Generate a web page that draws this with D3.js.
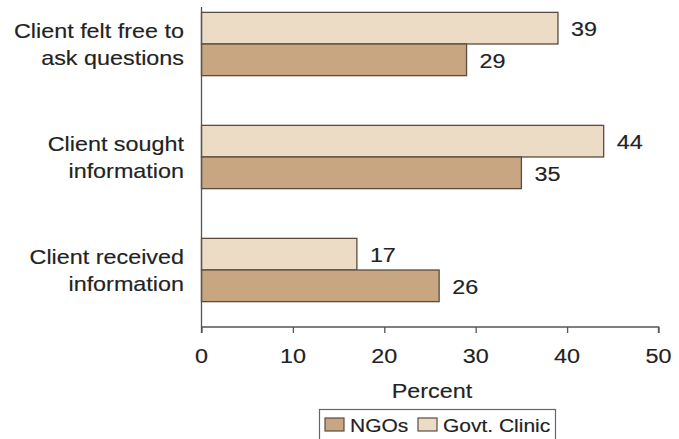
<!DOCTYPE html>
<html>
<head>
<meta charset="utf-8">
<script src="https://cdn.jsdelivr.net/npm/d3@7"></script>
<style>
  html, body { margin: 0; padding: 0; background: #fff; }
  svg { display: block; font-family: "Liberation Sans", Arial, sans-serif; }
</style>
</head>
<body>
<svg id="chart" width="679" height="439"></svg>
<script>
// Categories (two-line labels) and values per series
const categories = ["Client felt free to|ask questions", "Client sought|information", "Client received|information"];
const seriesNames = ["Govt. Clinic", "NGOs"];
const govtClinic = [39, 44, 17];
const ngos = [29, 35, 26];
const xTicks = [0, 10, 20, 30, 40, 50];

const colors = { "NGOs": "#c8a681", "Govt. Clinic": "#ecdcc6" };
const values = { "NGOs": ngos, "Govt. Clinic": govtClinic };
const textColor = "#222";
const FS = 20.5;      // base font size
const SX = 1.14;      // wide lettering

const svg = d3.select("#chart");
const x = d3.scaleLinear().domain([0, 50]).range([201.5, 658.5]);
const y = d3.scaleBand().domain(categories).range([-12.5, 326.5]).paddingInner(0.44).paddingOuter(0.22);
const ySub = d3.scaleBand().domain(seriesNames).range([0, y.bandwidth()]);

// helper: horizontally widened text anchored at (px, py)
function wideText(parent, px, py, str, anchor, size, sx) {
  return parent.append("g")
    .attr("transform", `translate(${px},${py}) scale(${sx},1)`)
    .append("text")
    .attr("text-anchor", anchor)
    .attr("font-size", size)
    .attr("fill", textColor)
    .attr("stroke", textColor)
    .attr("stroke-width", 0.15)
    .text(str);
}

// bars
categories.forEach((c, i) => {
  seriesNames.forEach(s => {
    const v = values[s][i];
    const by = y(c) + ySub(s);
    svg.append("rect")
      .attr("x", x(0))
      .attr("y", by)
      .attr("width", x(v) - x(0))
      .attr("height", ySub.bandwidth())
      .attr("fill", colors[s])
      .attr("stroke", "#5a4c40")
      .attr("stroke-width", 1.3);
    wideText(svg, x(v) + 13, by + ySub.bandwidth() / 2 + 8, v, "start", FS, SX);
  });
  // category label, two lines
  const lines = c.split("|");
  const cy = y(c) + y.bandwidth() / 2;
  wideText(svg, 184, cy - 6, lines[0], "end", FS, SX);
  wideText(svg, 184, cy + 21, lines[1], "end", FS, SX);
});

// vertical axis line
svg.append("line")
  .attr("x1", x(0)).attr("x2", x(0))
  .attr("y1", 7).attr("y2", 327)
  .attr("stroke", "#555").attr("stroke-width", 1.3);

// x axis
const xAxis = svg.append("g")
  .attr("transform", "translate(0,327)")
  .call(d3.axisBottom(x).tickValues(xTicks).tickSize(6).tickFormat(() => ""));
xAxis.select(".domain").attr("stroke", "#555").attr("stroke-width", 1.3)
  .attr("d", `M${x(0)},6V0H${x(50)}V6`);
xAxis.selectAll(".tick line").attr("stroke", "#555").attr("stroke-width", 1.3);
xTicks.forEach(t => wideText(svg, x(t), 363, t, "middle", FS, SX));

// axis title
wideText(svg, 432, 398, "Percent", "middle", FS, SX);

// legend
const lg = svg.append("g");
lg.append("rect")
  .attr("x", 319.5).attr("y", 409.5).attr("width", 236).attr("height", 34)
  .attr("fill", "#fff").attr("stroke", "#666").attr("stroke-width", 1.2);
const legendItems = [
  { name: "NGOs", x: 325, tx: 350 },
  { name: "Govt. Clinic", x: 418, tx: 443 }
];
legendItems.forEach(d => {
  lg.append("rect")
    .attr("x", d.x).attr("y", 418).attr("width", 19).attr("height", 13)
    .attr("fill", colors[d.name]).attr("stroke", "#5a4c40").attr("stroke-width", 1.2);
  wideText(lg, d.tx, 432, d.name, "start", 17.5, 1.2);
});
</script>
</body>
</html>
